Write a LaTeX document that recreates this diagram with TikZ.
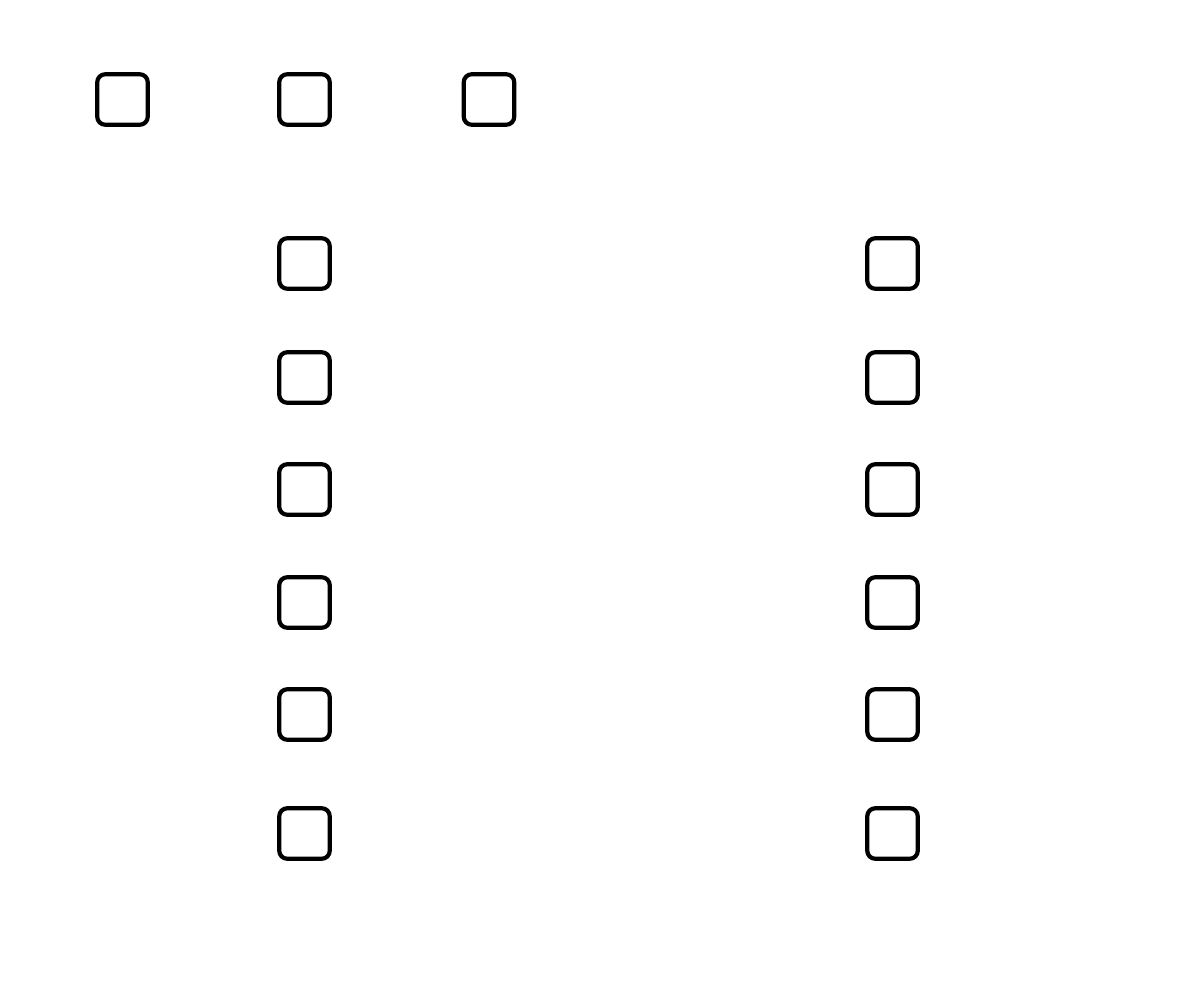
\documentclass[tikz,border=0pt]{standalone}
\begin{document}
\begin{tikzpicture}[x=1pt,y=-1pt,
  sq/.style={draw=black,line width=4.2pt,rounded corners=8pt,minimum width=50.5pt,minimum height=50.5pt,inner sep=0pt,fill=white}]
\useasboundingbox (0,0) rectangle (1200,995);
\node[sq] (t1) at (122.5,99.5) {};
\node[sq] (t2) at (304.5,99.5) {};
\node[sq] (t3) at (489,99.5) {};
\node[sq] (l1) at (304.5,263.5) {};
\node[sq] (l2) at (304.5,377.5) {};
\node[sq] (l3) at (304.5,489.5) {};
\node[sq] (l4) at (304.5,602.5) {};
\node[sq] (l5) at (304.5,714.5) {};
\node[sq] (l6) at (304.5,833.5) {};
\node[sq] (r1) at (892.5,263.5) {};
\node[sq] (r2) at (892.5,377.5) {};
\node[sq] (r3) at (892.5,489.5) {};
\node[sq] (r4) at (892.5,602.5) {};
\node[sq] (r5) at (892.5,714.5) {};
\node[sq] (r6) at (892.5,833.5) {};
\end{tikzpicture}
\end{document}
